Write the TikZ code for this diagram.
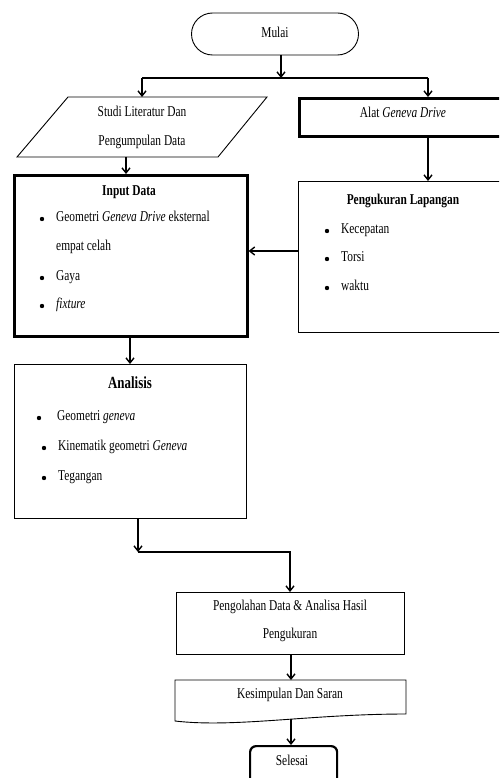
\documentclass[tikz,border=0pt]{standalone}
\usepackage{fontspec}
\setmainfont[FakeStretch=0.76]{Liberation Serif}
\usetikzlibrary{arrows.meta}
\begin{document}
\begin{tikzpicture}[x=1pt,y=-1pt,
  conn/.style={line width=1.4pt,-{Straight Barb[length=5pt,width=8pt]}},
  plainline/.style={line width=1.4pt},
  thinbox/.style={draw,line width=0.9pt,anchor=north west,inner sep=0pt},
  thickbox/.style={draw,line width=2.6pt,anchor=north west,inner sep=0pt},
  txt/.style={font=\fontsize{15}{17}\selectfont,inner sep=0pt,text height=10.5pt,text depth=3.3pt},
  ttl/.style={txt,font=\bfseries\fontsize{15}{17}\selectfont},
  itm/.style={txt,anchor=west},
  bul/.style={circle,fill=black,inner sep=0pt,minimum size=4.4pt}
]
\useasboundingbox (0,0) rectangle (499,778);
\clip (0,0) rectangle (499,778);

% Mulai
\node[draw,line width=0.9pt,rounded corners=21pt,minimum width=167pt,minimum height=42pt,txt] (mulai) at (275,34) {Mulai};
\coordinate (mb) at (281,55);
\coordinate (split) at (281,78);
\coordinate (splitL) at (142,78);
\coordinate (splitR) at (428,78);
\draw[conn] (mb) -- (split);
\draw[plainline] (splitL) -- (splitR);

% Studi literatur (parallelogram)
\coordinate (p1) at (68,97);
\coordinate (p2) at (267,97);
\coordinate (p3) at (218,157);
\coordinate (p4) at (17,157);
\draw[line width=0.9pt] (p1) -- (p2) -- (p3) -- (p4) -- cycle;
\node[txt] (studi1) at (142,113) {Studi Literatur Dan};
\node[txt] (studi2) at (142,142) {Pengumpulan Data};
\coordinate (studiTop) at (142,97);
\draw[conn] (splitL) -- (studiTop);

% Alat Geneva Drive
\node[thickbox,minimum width=222pt,minimum height=38pt] (alat) at (298,97) {};
\node[txt] (alatT) at (403,114) {Alat \textit{Geneva Drive}};
\draw[conn] (splitR) -- (splitR |- alat.north);

% Input Data
\node[thickbox,minimum width=233pt,minimum height=161pt] (input) at (13,174) {};
\node[ttl] (inTitle) at (129,192) {Input Data};
\node[bul] (ib1) at (42,219) {};
\node[itm] (it1) at (56,218) {Geometri \textit{Geneva Drive} eksternal};
\node[itm] (it1b) at (56,247) {empat celah};
\node[bul] (ib2) at (42,278) {};
\node[itm] (it2) at (56,277) {Gaya};
\node[bul] (ib3) at (42,306) {};
\node[itm] (it3) at (56,305) {\textit{fixture}};
\coordinate (studiBot) at (126,157);
\draw[conn] (studiBot) -- (studiBot |- input.north);

% Pengukuran Lapangan
\node[thinbox,minimum width=222pt,minimum height=151pt] (peng) at (298,181) {};
\node[ttl] (pengT) at (403,201) {Pengukuran Lapangan};
\node[bul] (pb1) at (327,231) {};
\node[itm] (pt1) at (341,230) {Kecepatan};
\node[bul] (pb2) at (327,259) {};
\node[itm] (pt2) at (341,258) {Torsi};
\node[bul] (pb3) at (327,288) {};
\node[itm] (pt3) at (341,287) {waktu};
\draw[conn] (alat.south -| splitR) -- (peng.north -| splitR);
\coordinate (pl) at (298,251);
\draw[conn] (pl) -- (input.east |- pl);

% Analisis
\node[thinbox,minimum width=232pt,minimum height=154pt] (anal) at (14,364) {};
\node[ttl,font=\bfseries\fontsize{17}{19}\selectfont] (anT) at (130,385) {Analisis};
\node[bul] (ab1) at (39,418) {};
\node[itm] (at1) at (57,417) {Geometri \textit{geneva}};
\node[bul] (ab2) at (44,448) {};
\node[itm] (at2) at (58,447) {Kinematik geometri \textit{Geneva}};
\node[bul] (ab3) at (44,478) {};
\node[itm] (at3) at (58,477) {Tegangan};
\coordinate (inBot) at (130,335);
\draw[conn] (inBot) -- (inBot |- anal.north);

% Pengolahan
\node[thinbox,minimum width=228pt,minimum height=62pt] (olah) at (176,592) {};
\node[txt] (olah1) at (290,607) {Pengolahan Data \& Analisa Hasil};
\node[txt] (olah2) at (290,635) {Pengukuran};
\coordinate (anBot) at (138,518);
\coordinate (corner) at (138,552);
\coordinate (corner2) at (290,552);
\draw[conn] (anBot) -- (corner);
\draw[conn] (corner) -- (corner2) -- (corner2 |- olah.north);

% Kesimpulan (document shape)
\coordinate (k1) at (175,680);
\coordinate (k2) at (406,680);
\coordinate (k3) at (406,714);
\coordinate (k4) at (175,721);
\draw[line width=0.9pt] (k1) -- (k2) -- (k3) .. controls (310,714) and (235,728) .. (k4) -- cycle;
\node[txt] (kes) at (290,695) {Kesimpulan Dan Saran};
\coordinate (kesTop) at (291,680);
\coordinate (kesBot) at (291,719);
\draw[conn] (291,654) -- (kesTop);

% Selesai
\node[draw,line width=2.2pt,rounded corners=6pt,anchor=north west,minimum width=87pt,minimum height=45pt,inner sep=0pt] (sel) at (249,745) {};
\node[txt] (selT) at (292,762) {Selesai};
\draw[conn] (kesBot) -- (kesBot |- sel.north);
\end{tikzpicture}
\end{document}
